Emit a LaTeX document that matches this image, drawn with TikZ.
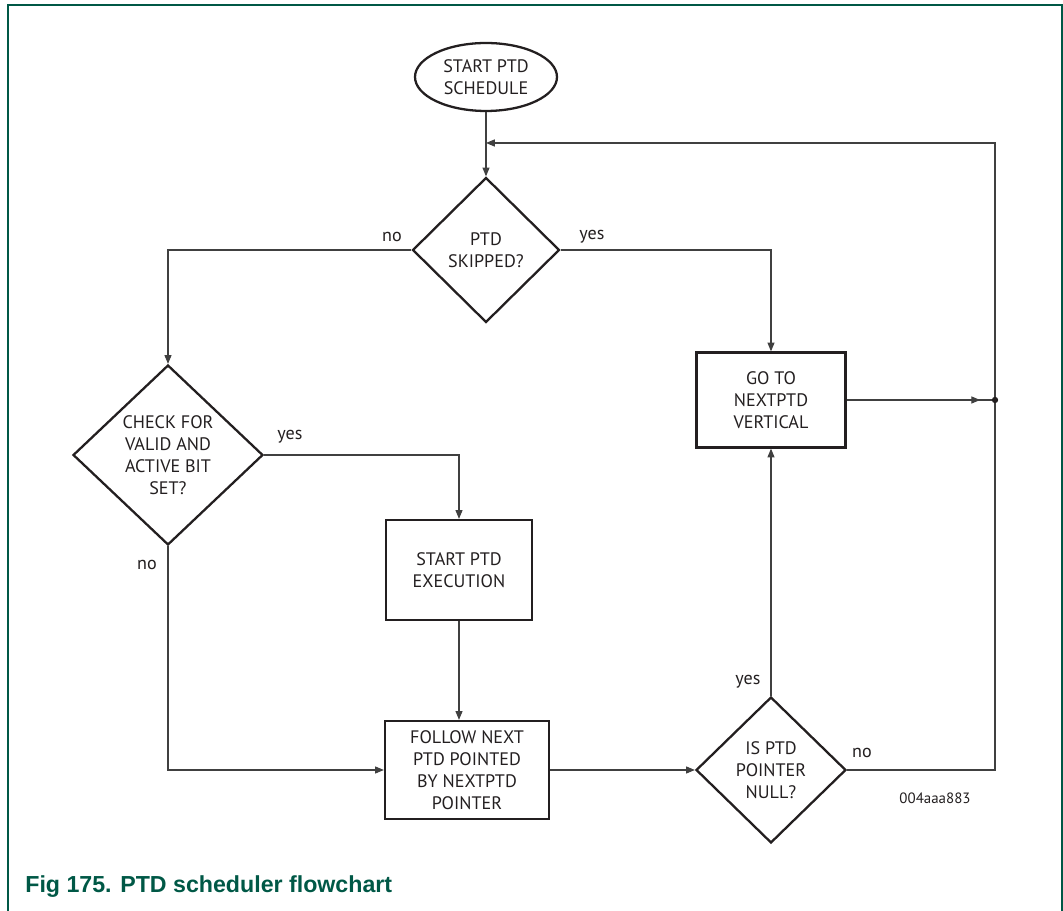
\documentclass[tikz,border=0pt]{standalone}
\usepackage{fontspec}
\setmainfont{PT Sans}
\newfontfamily\capfont{Liberation Sans}
\usetikzlibrary{shapes.geometric,arrows.meta,decorations.markings,calc}
\definecolor{nxpgreen}{RGB}{0,88,70}
\definecolor{inkgray}{RGB}{35,31,32}

\begin{document}
\begin{tikzpicture}[x=0.02cm, y=-0.02cm,
  every node/.style={font=\fontsize{10.3}{12.6}\selectfont, text=inkgray},
  stepbox/.style={draw=inkgray, line width=1.3pt, align=center, inner sep=0pt},
  decision/.style={diamond, draw=inkgray, line width=1.3pt, align=center, inner sep=0pt},
  terminal/.style={ellipse, draw=inkgray, line width=1.3pt, align=center, inner sep=0pt},
  flow/.style={draw=black!75, line width=0.6pt, -{Triangle[length=5pt, width=4pt]}},
  link/.style={draw=black!75, line width=0.6pt},
  mid arrow/.style={postaction={decorate}, decoration={markings,
    mark=at position 0.9 with {\arrow{Triangle[length=5pt, width=4pt]}}}},
  answer/.style={font=\fontsize{10.3}{12}\selectfont}]
  \useasboundingbox (0,0) rectangle (1063,911);
  \draw[nxpgreen, line width=0.7pt] (8,911) -- (8,5) -- (1062,5) -- (1062,911);

  \node[terminal, minimum width=2.84cm, minimum height=1.36cm] at (486,77) (start) {START PTD\\SCHEDULE};
  \node[decision, minimum width=2.94cm, minimum height=2.9cm] at (486,250) (skip) {PTD\\SKIPPED?};
  \node[stepbox, minimum width=2.98cm, minimum height=1.9cm] at (771,400) (goto) {GO TO\\NEXTPTD\\VERTICAL};
  \node[decision, minimum width=3.8cm, minimum height=3.6cm] at (168,455) (check) {CHECK FOR\\VALID AND\\ACTIVE BIT\\SET?};
  \node[stepbox, minimum width=2.92cm, minimum height=2.0cm] at (459,570) (exec) {START PTD\\EXECUTION};
  \node[stepbox, minimum width=3.28cm, minimum height=1.96cm] at (467,770) (follow) {FOLLOW NEXT\\PTD POINTED\\BY NEXTPTD\\POINTER};
  \node[decision, minimum width=3.0cm, minimum height=2.92cm] at (771,770) (null) {IS PTD\\POINTER\\NULL?};

  \coordinate (jn) at (995,400);
  \coordinate (loop) at (995,143);

  \draw[flow] (start) -- (skip);
  \draw[flow] (skip.west) -| (check.north);
  \draw[flow] (skip.east) -| (goto.north);
  \draw[flow] (check.east) -| (exec.north);
  \draw[flow] (exec.south) -- (exec.south |- follow.north);
  \draw[flow] (check.south) |- (follow.west);
  \draw[flow] (follow.east) -- (null.west);
  \draw[flow] (null.north) -- (goto.south);
  \draw[link, mid arrow] (goto.east) -- (jn);
  \draw[flow] (null.east) -| (loop) -- (start.south |- loop);
  \fill[inkgray] (jn) circle (1.8pt);

  \node[answer] at (392,237) (noskip) {no};
  \node[answer] at (592,237) (yesskip) {yes};
  \node[answer] at (290,437) (yescheck) {yes};
  \node[answer] at (147,565) (nocheck) {no};
  \node[answer] at (748,682) (yesnull) {yes};
  \node[answer] at (862,753) (nonull) {no};
  \node[font=\fontsize{8.5}{10}\selectfont] at (935,798) (figid) {004aaa883};

  \node[anchor=base west, inner sep=0pt, text=nxpgreen, font=\capfont\bfseries\fontsize{13.2}{15}\selectfont] at (25,893) (caption) {Fig 175. PTD scheduler flowchart};
\end{tikzpicture}
\end{document}
